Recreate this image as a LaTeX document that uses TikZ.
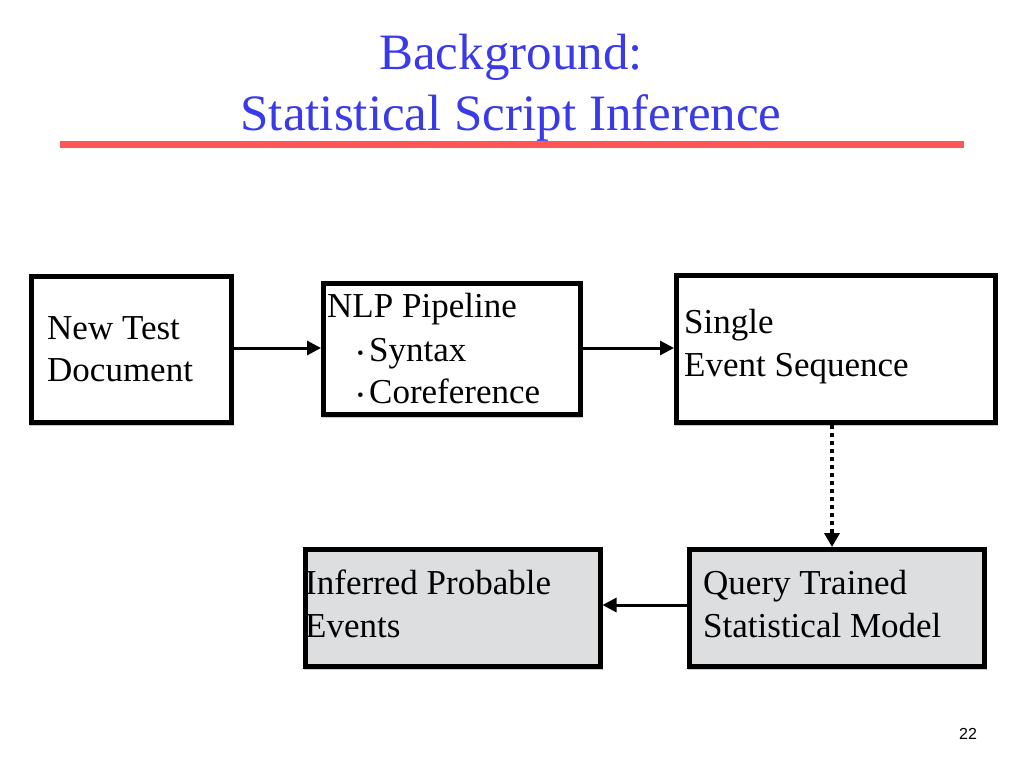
\documentclass[tikz,border=0pt]{standalone}
\usepackage{fontspec}
\setmainfont{Liberation Serif}
\newfontfamily\sansf{Liberation Sans}
\usetikzlibrary{arrows.meta}
\definecolor{titleblue}{RGB}{58,58,232}
\definecolor{rulered}{RGB}{255,85,85}
\definecolor{boxgray}{RGB}{221,222,224}
\definecolor{shadowgray}{RGB}{200,200,200}
\begin{document}
\begin{tikzpicture}[x=1pt,y=-1pt,
  box/.style={draw=black, fill=white, line width=4.5pt, inner sep=0pt, anchor=north west},
  graybox/.style={box, fill=boxgray},
  shade/.style={fill=shadowgray, draw=none, inner sep=0pt, anchor=north west},
  txt/.style={inner sep=0pt, anchor=base west, font=\fontsize{35}{40}\selectfont},
  bul/.style={inner sep=0pt, anchor=base east, font=\fontsize{19}{20}\selectfont},
  arr/.style={line width=3pt, -{Triangle[length=14pt,width=14pt]}},
  title/.style={inner sep=0pt, anchor=base, text=titleblue, font=\fontsize{51}{56}\selectfont}]
\useasboundingbox (0,0) rectangle (1024,768);
\fill[white] (0,0) rectangle (1024,768);

% title
\node[title] (t1) at (511,69) {Background:};
\node[title] (t2) at (511,130) {Statistical Script Inference};
\fill[rulered] (60,141) rectangle (964,148);

% shadows
\node[shade, minimum width=204pt, minimum height=150pt] at (30,276) {};
\node[shade, minimum width=261pt, minimum height=135pt] at (322,283) {};
\node[shade, minimum width=323pt, minimum height=151pt] at (675,275) {};
\node[shade, minimum width=299pt, minimum height=121pt] at (688,549) {};
\node[shade, minimum width=299pt, minimum height=121pt] at (304,549) {};

% boxes
\node[box, minimum width=200pt, minimum height=146pt] (doc) at (29,274) {};
\node[box, minimum width=257pt, minimum height=131pt] (nlp) at (321,281) {};
\node[box, minimum width=319pt, minimum height=147pt] (seq) at (674,273) {};
\node[graybox, minimum width=295pt, minimum height=117pt] (query) at (687,547) {};
\node[graybox, minimum width=295pt, minimum height=117pt] (infer) at (303,547) {};

% texts
\node[txt] (d1) at (47,339) {New Test};
\node[txt] (d2) at (47,381) {Document};
\node[txt] (n1) at (327,317) {NLP Pipeline};
\node[txt] (n2) at (369,361) {Syntax};
\node[bul] at (364,359) {•};
\node[txt] (n3) at (369,403) {Coreference};
\node[bul] at (364,401) {•};
\node[txt] (s1) at (684,333) {Single};
\node[txt] (s2) at (684,376) {Event Sequence};
\node[txt] (q1) at (703,594) {Query Trained};
\node[txt] (q2) at (703,637) {Statistical Model};
\node[txt] (i1) at (305,594) {Inferred Probable};
\node[txt] (i2) at (305,637) {Events};

% connectors
\draw[arr] (doc.east |- 0,348) -- (nlp.west |- 0,348);
\draw[arr] (nlp.east |- 0,348) -- (seq.west |- 0,348);
\draw[line width=4pt, dash pattern=on 4pt off 4pt, -{Triangle[length=14pt,width=15pt]}] (seq.south -| 832,0) -- (query.north -| 832,0);
\draw[arr] (query.west |- 0,605) -- (infer.east |- 0,605);

% page number
\node[inner sep=0pt, anchor=base, font=\sansf\fontsize{16}{18}\selectfont] (pg) at (968,739) {22};
\end{tikzpicture}
\end{document}
